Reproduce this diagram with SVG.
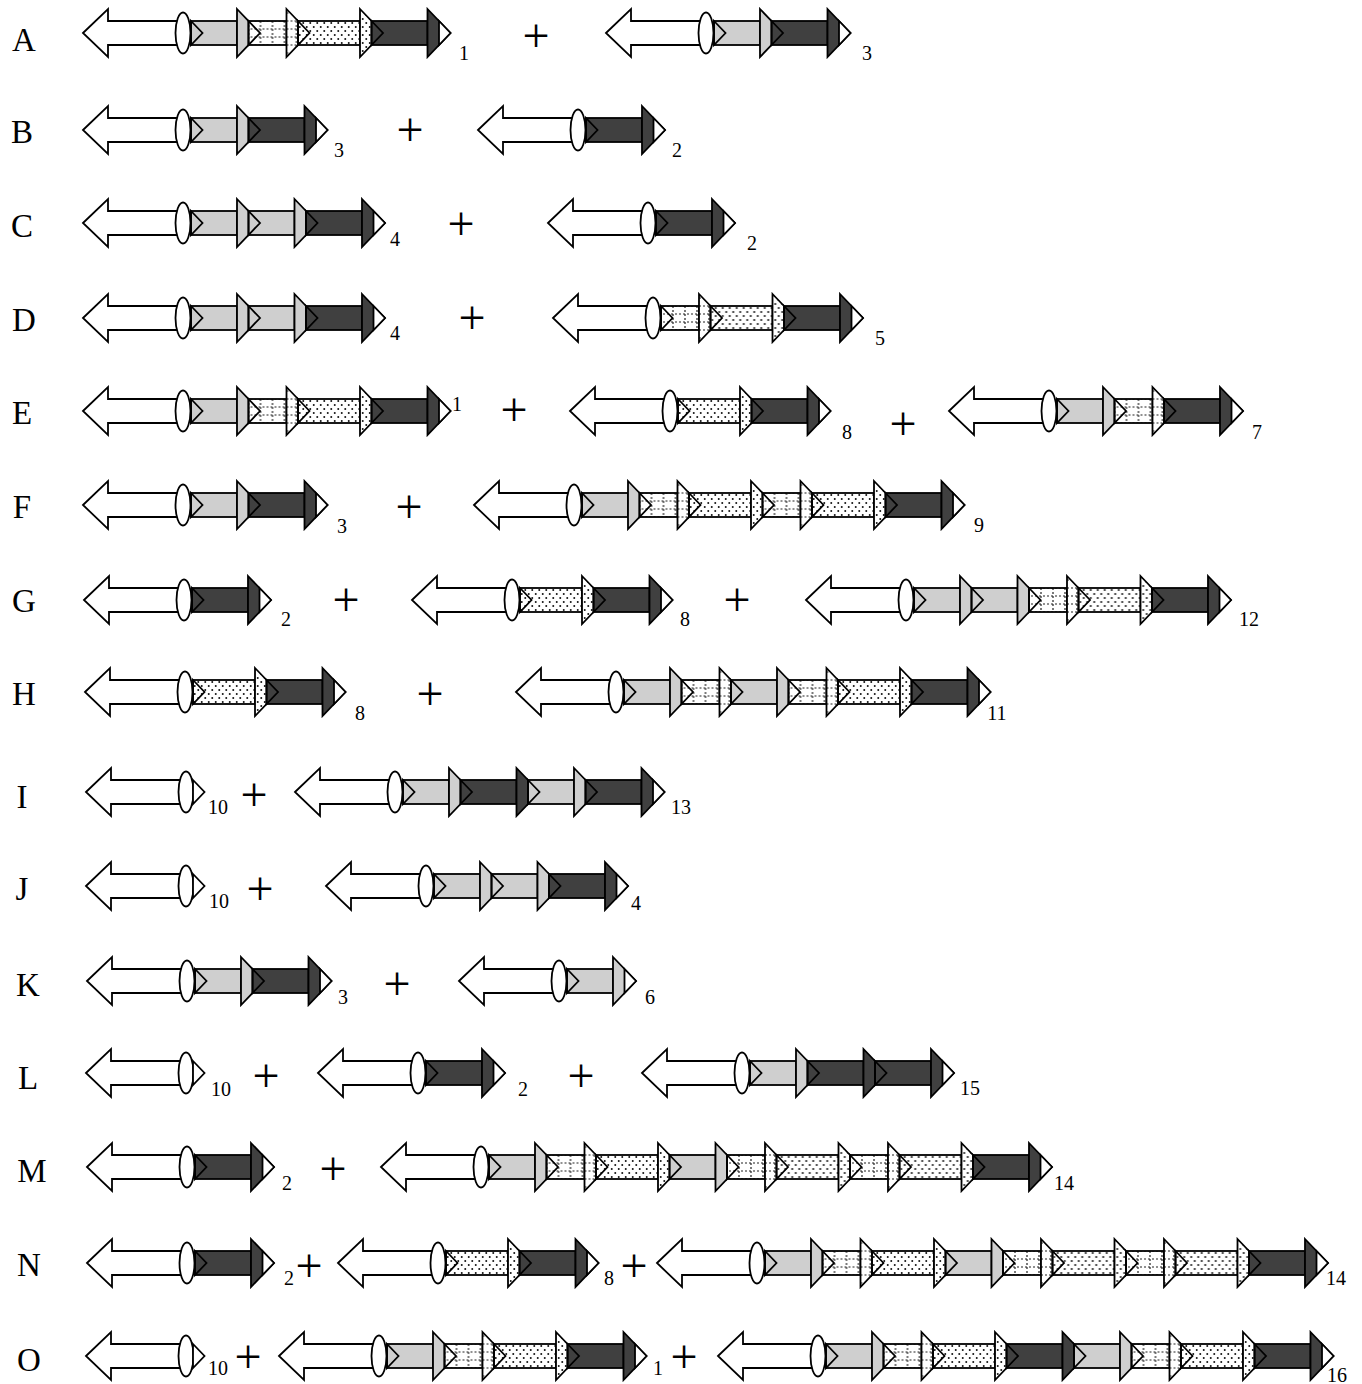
<svg xmlns="http://www.w3.org/2000/svg" width="1362" height="1384" viewBox="0 0 1362 1384">
<style>
.o{stroke:#000;stroke-width:1.8;stroke-linejoin:miter}
.w{fill:#fff}.g{fill:#cfcfcf}.k{fill:#404040}.r{fill:url(#pr)}.d{fill:url(#pd)}.ch{fill:none}
text{font-family:"Liberation Serif","Times New Roman",serif;fill:#000;text-anchor:middle}
.L{font-size:33px}.n{font-size:20px}.p{font-size:48px}
</style>
<defs>
<pattern id="pr" patternUnits="userSpaceOnUse" x="6" y="-8" width="12" height="8"><rect width="12" height="8" fill="#fff"/><path d="M6,0V8M0,4H12" stroke="#222" stroke-width="1.2" stroke-dasharray="2 2" fill="none"/></pattern>
<pattern id="pd" patternUnits="userSpaceOnUse" width="7" height="8"><rect width="7" height="8" fill="#fff"/><circle cx="1.75" cy="2" r="1" fill="#111"/><circle cx="5.25" cy="6" r="1" fill="#111"/></pattern>
<g id="la" class="o"><polygon class="w" points="0,0 25,-24 25,-12 100,-12 100,12 25,12 25,24"/><ellipse class="w" cx="100" cy="0" rx="7.5" ry="20.5"/></g>
<g id="sg" class="o"><rect class="g" x="0" y="-12" width="46" height="24"/><polygon class="ch" points="0,-12 11.5,0 0,12"/><polygon class="g" points="46,-24 69,0 46,24"/></g>
<g id="sr" class="o"><rect class="r" x="0" y="-12" width="38" height="24"/><polygon class="ch" points="0,-12 11.5,0 0,12"/><polygon class="r" points="38,-24 61,0 38,24"/></g>
<g id="sd" class="o"><rect class="d" x="0" y="-12" width="62" height="24"/><polygon class="ch" points="0,-12 11.5,0 0,12"/><polygon class="d" points="62,-24 85,0 62,24"/></g>
<g id="sk" class="o"><rect class="k" x="0" y="-12" width="56" height="24"/><polygon class="ch" points="0,-12 11.5,0 0,12"/><polygon class="k" points="56,-24 79,0 56,24"/></g>
<polygon id="tp" class="o w" points="0,-12 11.5,0 0,12"/>
</defs>

<g id="letters">
<text class="L" x="24" y="51">A</text>
<text class="L" x="22" y="143">B</text>
<text class="L" x="22" y="237">C</text>
<text class="L" x="24" y="331">D</text>
<text class="L" x="22" y="424">E</text>
<text class="L" x="22" y="518">F</text>
<text class="L" x="24" y="612">G</text>
<text class="L" x="24" y="705">H</text>
<text class="L" x="22" y="808">I</text>
<text class="L" x="22" y="900">J</text>
<text class="L" x="28" y="996">K</text>
<text class="L" x="28" y="1089">L</text>
<text class="L" x="32" y="1182">M</text>
<text class="L" x="29" y="1276">N</text>
<text class="L" x="29" y="1371">O</text>
</g>

<g id="connectors"></g>

<!-- Row A -->
<g id="A1" transform="translate(83,33)"><use href="#la"/><use href="#sg" x="108"/><use href="#sr" x="165.5"/><use href="#sd" x="215"/><use href="#sk" x="288.5"/><use href="#tp" x="356"/></g>
<g id="A2" transform="translate(606,33)"><use href="#la"/><use href="#sg" x="108"/><use href="#sk" x="165.5"/><use href="#tp" x="233"/></g>
<!-- Row B -->
<g id="B1" transform="translate(83,130)"><use href="#la"/><use href="#sg" x="108"/><use href="#sk" x="165.5"/><use href="#tp" x="233"/></g>
<g id="B2" transform="translate(478,130)"><use href="#la"/><use href="#sk" x="108"/><use href="#tp" x="175.5"/></g>
<!-- Row C -->
<g id="C1" transform="translate(83,223)"><use href="#la"/><use href="#sg" x="108"/><use href="#sg" x="165.5"/><use href="#sk" x="223"/><use href="#tp" x="290.5"/></g>
<g id="C2" transform="translate(548,223)"><use href="#la"/><use href="#sk" x="108"/><use href="#tp" x="175.5"/></g>
<!-- Row D -->
<g id="D1" transform="translate(83,318)"><use href="#la"/><use href="#sg" x="108"/><use href="#sg" x="165.5"/><use href="#sk" x="223"/><use href="#tp" x="290.5"/></g>
<g id="D2" transform="translate(553,318)"><use href="#la"/><use href="#sr" x="108"/><use href="#sd" x="157.5"/><use href="#sk" x="231"/><use href="#tp" x="298.5"/></g>
<!-- Row E -->
<g id="E1" transform="translate(83,411)"><use href="#la"/><use href="#sg" x="108"/><use href="#sr" x="165.5"/><use href="#sd" x="215"/><use href="#sk" x="288.5"/><use href="#tp" x="356"/></g>
<g id="E2" transform="translate(570,411)"><use href="#la"/><use href="#sd" x="108"/><use href="#sk" x="181.5"/><use href="#tp" x="249"/></g>
<g id="E3" transform="translate(949,411)"><use href="#la"/><use href="#sg" x="108"/><use href="#sr" x="165.5"/><use href="#sk" x="215"/><use href="#tp" x="282.5"/></g>
<!-- Row F -->
<g id="F1" transform="translate(83,505)"><use href="#la"/><use href="#sg" x="108"/><use href="#sk" x="165.5"/><use href="#tp" x="233"/></g>
<g id="F2" transform="translate(474,505)"><use href="#la"/><use href="#sg" x="108"/><use href="#sr" x="165.5"/><use href="#sd" x="215"/><use href="#sr" x="288.5"/><use href="#sd" x="338"/><use href="#sk" x="411.5"/><use href="#tp" x="479"/></g>
<!-- Row G -->
<g id="G1" transform="translate(84,600)"><use href="#la"/><use href="#sk" x="108"/><use href="#tp" x="175.5"/></g>
<g id="G2" transform="translate(412,600)"><use href="#la"/><use href="#sd" x="108"/><use href="#sk" x="181.5"/><use href="#tp" x="249"/></g>
<g id="G3" transform="translate(806,600)"><use href="#la"/><use href="#sg" x="108"/><use href="#sg" x="165.5"/><use href="#sr" x="223"/><use href="#sd" x="272.5"/><use href="#sk" x="346"/><use href="#tp" x="413.5"/></g>
<!-- Row H -->
<g id="H1" transform="translate(85,692)"><use href="#la"/><use href="#sd" x="108"/><use href="#sk" x="181.5"/><use href="#tp" x="249"/></g>
<g id="H2" transform="translate(516,692)"><use href="#la"/><use href="#sg" x="108"/><use href="#sr" x="165.5"/><use href="#sg" x="215"/><use href="#sr" x="272.5"/><use href="#sd" x="322"/><use href="#sk" x="395.5"/><use href="#tp" x="463"/></g>
<!-- Row I -->
<g id="I1" transform="translate(86,792)"><use href="#la"/><use href="#tp" x="107"/></g>
<g id="I2" transform="translate(295,792)"><use href="#la"/><use href="#sg" x="108"/><use href="#sk" x="165.5"/><use href="#sg" x="233"/><use href="#sk" x="290.5"/><use href="#tp" x="358"/></g>
<!-- Row J -->
<g id="J1" transform="translate(86,886)"><use href="#la"/><use href="#tp" x="107"/></g>
<g id="J2" transform="translate(326,886)"><use href="#la"/><use href="#sg" x="108"/><use href="#sg" x="165.5"/><use href="#sk" x="223"/><use href="#tp" x="290.5"/></g>
<!-- Row K -->
<g id="K1" transform="translate(87,981)"><use href="#la"/><use href="#sg" x="108"/><use href="#sk" x="165.5"/><use href="#tp" x="233"/></g>
<g id="K2" transform="translate(459,981)"><use href="#la"/><use href="#sg" x="108"/><use href="#tp" x="165.5"/></g>
<!-- Row L -->
<g id="L1" transform="translate(86,1073)"><use href="#la"/><use href="#tp" x="107"/></g>
<g id="L2" transform="translate(318,1073)"><use href="#la"/><use href="#sk" x="108"/><use href="#tp" x="175.5"/></g>
<g id="L3" transform="translate(642,1073)"><use href="#la"/><use href="#sg" x="108"/><use href="#sk" x="165.5"/><use href="#sk" x="233"/><use href="#tp" x="300.5"/></g>
<!-- Row M -->
<g id="M1" transform="translate(87,1167)"><use href="#la"/><use href="#sk" x="108"/><use href="#tp" x="175.5"/></g>
<g id="M2" transform="translate(381,1167)"><use href="#la"/><use href="#sg" x="108"/><use href="#sr" x="165.5"/><use href="#sd" x="215"/><use href="#sg" x="288.5"/><use href="#sr" x="346"/><use href="#sd" x="395.5"/><use href="#sr" x="469"/><use href="#sd" x="518.5"/><use href="#sk" x="592"/><use href="#tp" x="659.5"/></g>
<!-- Row N -->
<g id="N1" transform="translate(87,1263)"><use href="#la"/><use href="#sk" x="108"/><use href="#tp" x="175.5"/></g>
<g id="N2" transform="translate(338,1263)"><use href="#la"/><use href="#sd" x="108"/><use href="#sk" x="181.5"/><use href="#tp" x="249"/></g>
<g id="N3" transform="translate(657,1263)"><use href="#la"/><use href="#sg" x="108"/><use href="#sr" x="165.5"/><use href="#sd" x="215"/><use href="#sg" x="288.5"/><use href="#sr" x="346"/><use href="#sd" x="395.5"/><use href="#sr" x="469"/><use href="#sd" x="518.5"/><use href="#sk" x="592"/><use href="#tp" x="659.5"/></g>
<!-- Row O -->
<g id="O1" transform="translate(86,1356)"><use href="#la"/><use href="#tp" x="107"/></g>
<g id="O2" transform="translate(279,1356)"><use href="#la"/><use href="#sg" x="108"/><use href="#sr" x="165.5"/><use href="#sd" x="215"/><use href="#sk" x="288.5"/><use href="#tp" x="356"/></g>
<g id="O3" transform="translate(718,1356)"><use href="#la"/><use href="#sg" x="108"/><use href="#sr" x="165.5"/><use href="#sd" x="215"/><use href="#sk" x="288.5"/><use href="#sg" x="356"/><use href="#sr" x="413.5"/><use href="#sd" x="463"/><use href="#sk" x="536.5"/><use href="#tp" x="604"/></g>

<g id="labels">
<text class="n" x="464" y="60">1</text><text class="n" x="867" y="60">3</text>
<text class="n" x="339" y="157">3</text><text class="n" x="677" y="157">2</text>
<text class="n" x="395" y="246">4</text><text class="n" x="752" y="250">2</text>
<text class="n" x="395" y="340">4</text><text class="n" x="880" y="345">5</text>
<text class="n" x="457" y="411">1</text><text class="n" x="847" y="439">8</text><text class="n" x="1257" y="439">7</text>
<text class="n" x="342" y="533">3</text><text class="n" x="979" y="532">9</text>
<text class="n" x="286" y="626">2</text><text class="n" x="685" y="626">8</text><text class="n" x="1249" y="626">12</text>
<text class="n" x="360" y="720">8</text><text class="n" x="997" y="720">11</text>
<text class="n" x="218" y="814">10</text><text class="n" x="681" y="814">13</text>
<text class="n" x="219" y="908">10</text><text class="n" x="636" y="910">4</text>
<text class="n" x="343" y="1004">3</text><text class="n" x="650" y="1004">6</text>
<text class="n" x="221" y="1096">10</text><text class="n" x="523" y="1096">2</text><text class="n" x="970" y="1095">15</text>
<text class="n" x="287" y="1190">2</text><text class="n" x="1064" y="1190">14</text>
<text class="n" x="289" y="1285">2</text><text class="n" x="609" y="1285">8</text><text class="n" x="1336" y="1285">14</text>
<text class="n" x="218" y="1375">10</text><text class="n" x="658" y="1375">1</text><text class="n" x="1337" y="1382">16</text>
</g>

<g id="plus">
<text class="p" x="536" y="52">+</text>
<text class="p" x="410" y="146">+</text>
<text class="p" x="461" y="240">+</text>
<text class="p" x="472" y="334">+</text>
<text class="p" x="514" y="426">+</text><text class="p" x="903" y="440">+</text>
<text class="p" x="409" y="523">+</text>
<text class="p" x="346" y="616">+</text><text class="p" x="737" y="616">+</text>
<text class="p" x="430" y="710">+</text>
<text class="p" x="254" y="811">+</text>
<text class="p" x="260" y="905">+</text>
<text class="p" x="397" y="1000">+</text>
<text class="p" x="266" y="1092">+</text><text class="p" x="581" y="1092">+</text>
<text class="p" x="333" y="1185">+</text>
<text class="p" x="309" y="1282">+</text><text class="p" x="634" y="1282">+</text>
<text class="p" x="248" y="1373">+</text><text class="p" x="684" y="1373">+</text>
</g>
</svg>
